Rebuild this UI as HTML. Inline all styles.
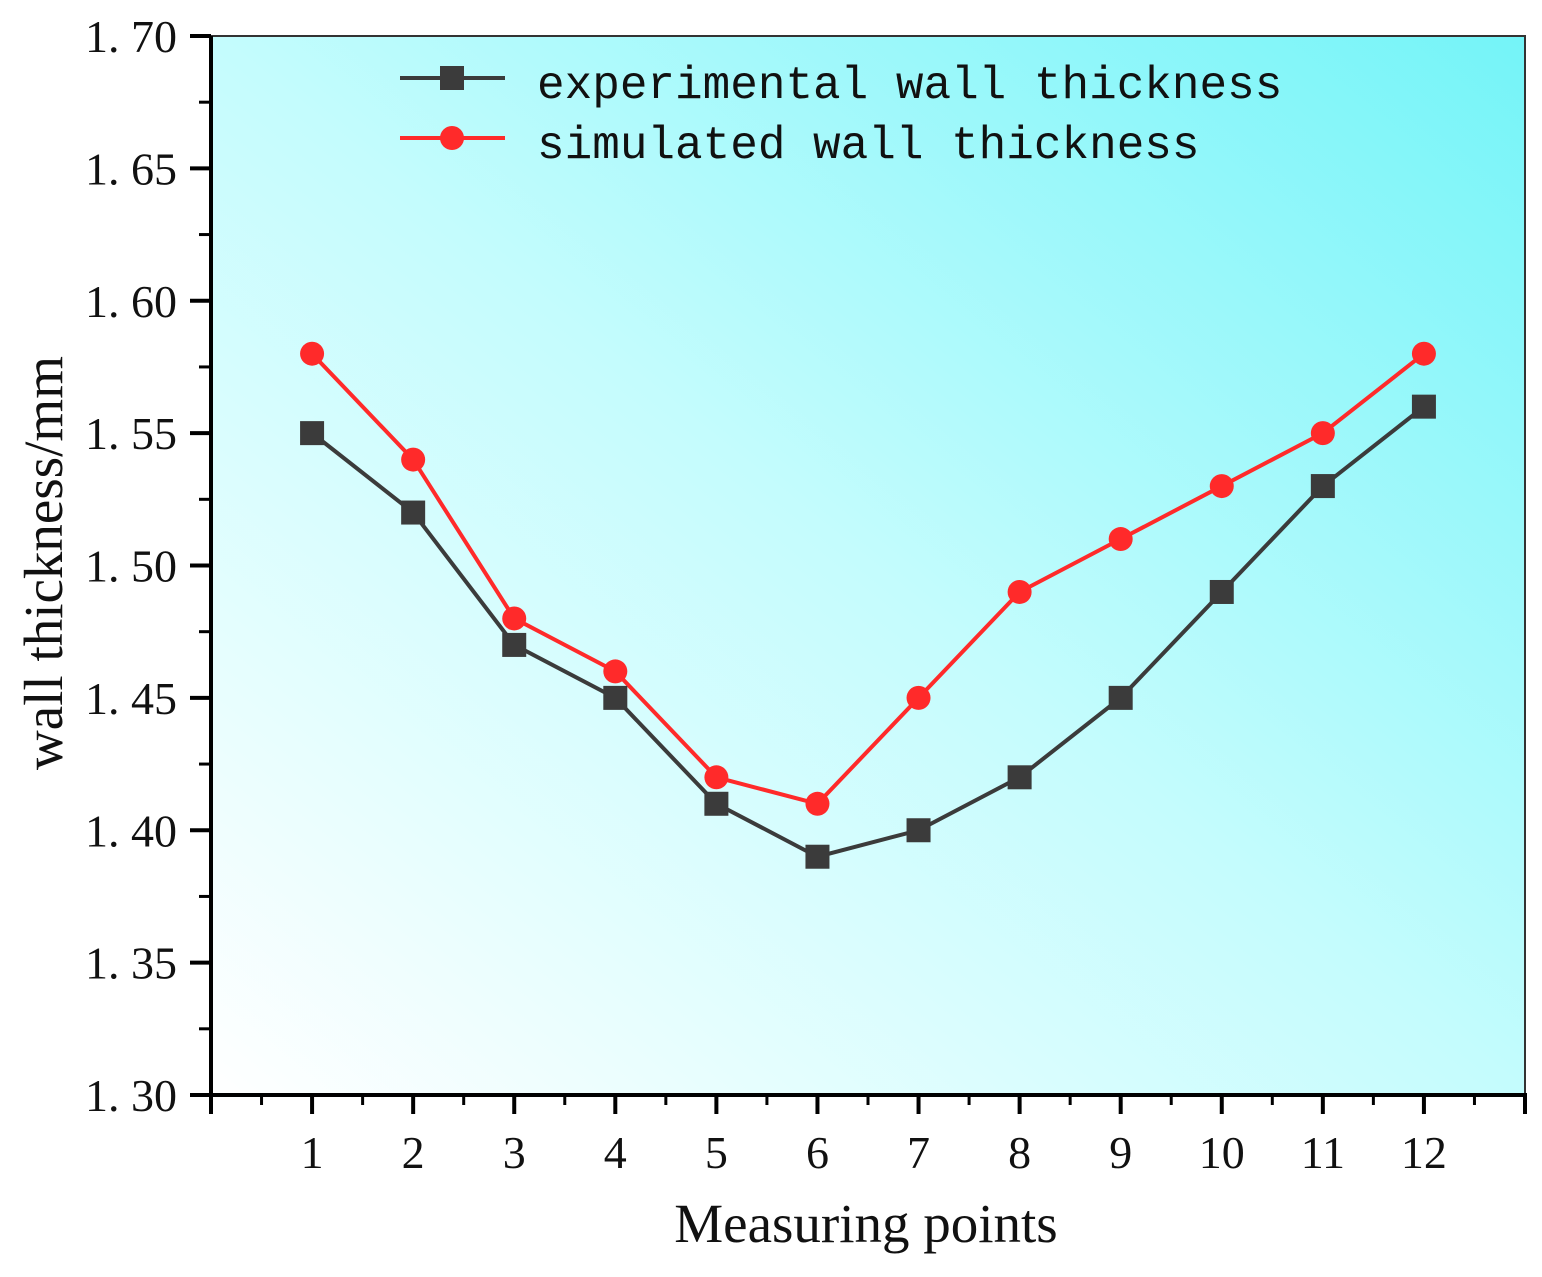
<!DOCTYPE html>
<html><head><meta charset="utf-8"><style>
html,body{margin:0;padding:0;background:#fff;}
svg{display:block;}
</style></head><body>
<svg id="chart" width="1542" height="1277" xmlns="http://www.w3.org/2000/svg">
<defs>
<linearGradient id="bg" x1="0" y1="1" x2="1" y2="0">
<stop offset="0" stop-color="#ffffff"/>
<stop offset="0.5" stop-color="#c4fcfd"/>
<stop offset="1" stop-color="#74f4f8"/>
</linearGradient>
</defs>
<rect x="211" y="36" width="1314" height="1059" fill="url(#bg)" stroke="#333" stroke-width="2"/>
<g id="axes"></g>
<g id="series"></g>
<g>
<line x1="400" y1="78" x2="505" y2="78" stroke="#3b3b3b" stroke-width="4"/>
<rect x="440" y="66" width="24" height="24" fill="#3b3b3b"/>
<text x="537" y="98" font-family="Liberation Mono, monospace" font-size="46" fill="#111">experimental wall thickness</text>
<line x1="400" y1="138" x2="505" y2="138" stroke="#ff2a2a" stroke-width="4"/>
<circle cx="452" cy="138" r="12" fill="#ff2a2a"/>
<text x="537" y="158" font-family="Liberation Mono, monospace" font-size="46" fill="#111">simulated wall thickness</text>
</g>
<text x="866" y="1242" text-anchor="middle" font-family="Liberation Serif, serif" font-size="55" fill="#111">Measuring points</text>
<text transform="translate(62,563) rotate(-90)" text-anchor="middle" font-family="Liberation Serif, serif" font-size="55" fill="#111">wall thickness/mm</text>
</svg>
<script>
const categories=[1,2,3,4,5,6,7,8,9,10,11,12];
const experimental=[1.55,1.52,1.47,1.45,1.41,1.39,1.40,1.42,1.45,1.49,1.53,1.56];
const simulated=[1.58,1.54,1.48,1.46,1.42,1.41,1.45,1.49,1.51,1.53,1.55,1.58];
const yTicks=[1.30,1.35,1.40,1.45,1.50,1.55,1.60,1.65,1.70];
const yTickLabels=["1. 30","1. 35","1. 40","1. 45","1. 50","1. 55","1. 60","1. 65","1. 70"];
const NS="http://www.w3.org/2000/svg";
const X0=211,X1=1525,Y0=1095,Y1=36;
function xs(v){return X0+(v-0)/(13-0)*(X1-X0);}
function ys(v){return Y0-(v-1.30)/(0.40)*(Y0-Y1);}
function mk(tag,attrs,parent){const e=document.createElementNS(NS,tag);for(const k in attrs)e.setAttribute(k,attrs[k]);parent.appendChild(e);return e;}
const axes=document.getElementById('axes');
mk('line',{x1:X0,y1:Y1,x2:X0,y2:Y0+1,stroke:'#000','stroke-width':4},axes);
mk('line',{x1:X0-1,y1:Y0,x2:X1+2,y2:Y0,stroke:'#000','stroke-width':4},axes);
yTicks.forEach((t,i)=>{
  const y=ys(t);
  const l=mk('line',{x1:X0-21,y1:y,x2:X0,y2:y,stroke:'#000','stroke-width':4},axes);
  
  
  if(i<yTicks.length-1){const m=mk('line',{x1:X0-12,y1:ys(t+0.025),x2:X0,y2:ys(t+0.025),stroke:'#000','stroke-width':3},axes);
  
  }
  const tx=mk('text',{x:177,y:y+16,'text-anchor':'end','font-family':'Liberation Serif, serif','font-size':46,fill:'#111'},axes);
  tx.textContent=yTickLabels[i];
  
  
});
for(let v=0;v<=13;v++){
  const l=mk('line',{x1:xs(v),y1:Y0,x2:xs(v),y2:Y0+19,stroke:'#000','stroke-width':4},axes);
  
  
  if(v<13){const m=mk('line',{x1:xs(v+0.5),y1:Y0,x2:xs(v+0.5),y2:Y0+10,stroke:'#000','stroke-width':3},axes);
  
  }
}
categories.forEach(c=>{
  const tx=mk('text',{x:xs(c),y:1168,'text-anchor':'middle','font-family':'Liberation Serif, serif','font-size':46,fill:'#111'},axes);
  tx.textContent=String(c);
  
  
});
const ser=document.getElementById('series');
function drawSeries(vals,color,shape,name){
  const pts=vals.map((v,i)=>xs(categories[i])+','+ys(v)).join(' ');
  const pl=mk('polyline',{points:pts,fill:'none',stroke:color,'stroke-width':4},ser);
  
  
  vals.forEach((v,i)=>{
    let m;
    if(shape==='sq') m=mk('rect',{x:xs(categories[i])-12,y:ys(v)-12,width:24,height:24,fill:color},ser);
    else m=mk('circle',{cx:xs(categories[i]),cy:ys(v),r:12,fill:color},ser);
    
    
  });
}
drawSeries(simulated,'#ff2a2a','ci','simulated');
drawSeries(experimental,'#3b3b3b','sq','experimental');
</script>
</body></html>
